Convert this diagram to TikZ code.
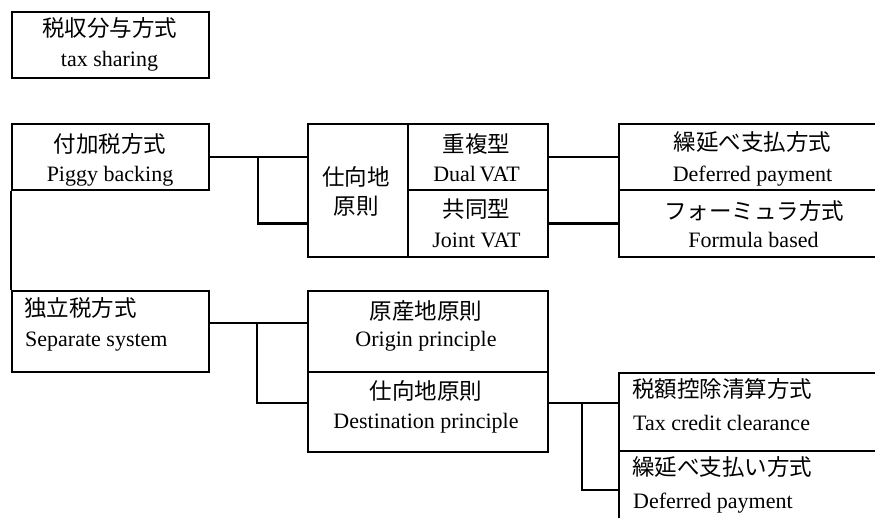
\documentclass[tikz,border=0pt]{standalone}
\usepackage{fontspec}
\setmainfont{Liberation Serif}
\newfontfamily\jp{Noto Sans CJK JP}
\begin{document}
\begin{tikzpicture}[x=1pt,y=-1pt,
  box/.style={draw,line width=2.1pt,rectangle,inner sep=0pt,anchor=north west},
  jt/.style={font=\jp\fontsize{22.5}{24}\selectfont,inner sep=0pt,anchor=center},
  et/.style={font=\fontsize{22}{24}\selectfont,inner sep=0pt,anchor=base},
  jtl/.style={jt,anchor=west},
  etl/.style={et,anchor=base west},
  conn/.style={line width=2.1pt}]
\useasboundingbox (0,0) rectangle (875,518);
\clip (0,0) rectangle (875,518);
% boxes
\node[box,minimum width=197pt,minimum height=66pt] (tax) at (11,11) {};
\node[box,minimum width=197pt,minimum height=66pt] (piggy) at (11,123) {};
\node[box,minimum width=100pt,minimum height=133pt] (sd) at (307,123) {};
\node[box,minimum width=140pt,minimum height=66pt] (dual) at (407,123) {};
\node[box,minimum width=140pt,minimum height=67pt] (joint) at (407,189) {};
\node[box,minimum width=270pt,minimum height=66pt] (def1) at (618,123) {};
\node[box,minimum width=270pt,minimum height=67pt] (formula) at (618,189) {};
\node[box,minimum width=197pt,minimum height=81pt] (sep) at (11,290) {};
\node[box,minimum width=240pt,minimum height=81pt] (origin) at (307,290) {};
\node[box,minimum width=240pt,minimum height=80pt] (dest) at (307,371) {};
\node[box,minimum width=270pt,minimum height=78pt] (credit) at (618,372) {};
\node[box,minimum width=270pt,minimum height=100pt] (def2) at (618,450) {};
% texts
\node[jt] (t1) at (109.5,28) {税収分与方式};
\node[et] (t2) at (109.5,67) {tax sharing};
\node[jt] (t3) at (110,144) {付加税方式};
\node[et] (t4) at (110,181.5) {Piggy backing};
\node[jt] (t5) at (356,176.5) {仕向地};
\node[jt] (t6) at (356,206.5) {原則};
\node[jt] (t7) at (476.5,144) {重複型};
\node[et] (t8) at (476.5,181.5) {Dual\,VAT};
\node[jt] (t9) at (476.5,209) {共同型};
\node[et] (t10) at (476.5,248) {Joint VAT};
\node[jt] (t11) at (752.5,141.7) {繰延べ支払方式};
\node[et] (t12) at (752.5,181.7) {Deferred payment};
\node[jt] (t13) at (754,211) {フォーミュラ方式};
\node[et] (t14) at (753.5,248) {Formula based};
\node[jtl] (t15) at (24,308) {独立税方式};
\node[etl] (t16) at (25,346.7) {Separate system};
\node[jt] (t17) at (426,311) {原産地原則};
\node[et] (t18) at (426,346.7) {Origin principle};
\node[jt] (t19) at (426,391) {仕向地原則};
\node[et] (t20) at (426,428) {Destination principle};
\node[jtl] (t21) at (632,389) {税額控除清算方式};
\node[etl] (t22) at (633,430) {Tax credit clearance};
\node[jtl] (t23) at (632,466.7) {繰延べ支払い方式};
\node[etl] (t24) at (633,508) {Deferred payment};
% connectors
\coordinate (j1) at (258,156);
\coordinate (j2) at (257,323);
\coordinate (j3) at (582,403);
\draw[conn] (piggy.south west) -- (sep.north west);
\draw[conn] (piggy.east) -- (piggy.east -| sd.west);
\draw[conn] (j1) |- (sd.west |- joint.west);
\draw[conn] (dual.east) -- (def1.west |- dual.east);
\draw[conn] (joint.east) -- (formula.west |- joint.east);
\draw[conn] (sep.east |- j2) -- (origin.west |- j2);
\draw[conn] (j2) |- (dest.west |- j3);
\draw[conn] (dest.east |- j3) -- (credit.west |- j3);
\draw[conn] (j3) |- (def2.west |- 0,490);
\end{tikzpicture}
\end{document}
